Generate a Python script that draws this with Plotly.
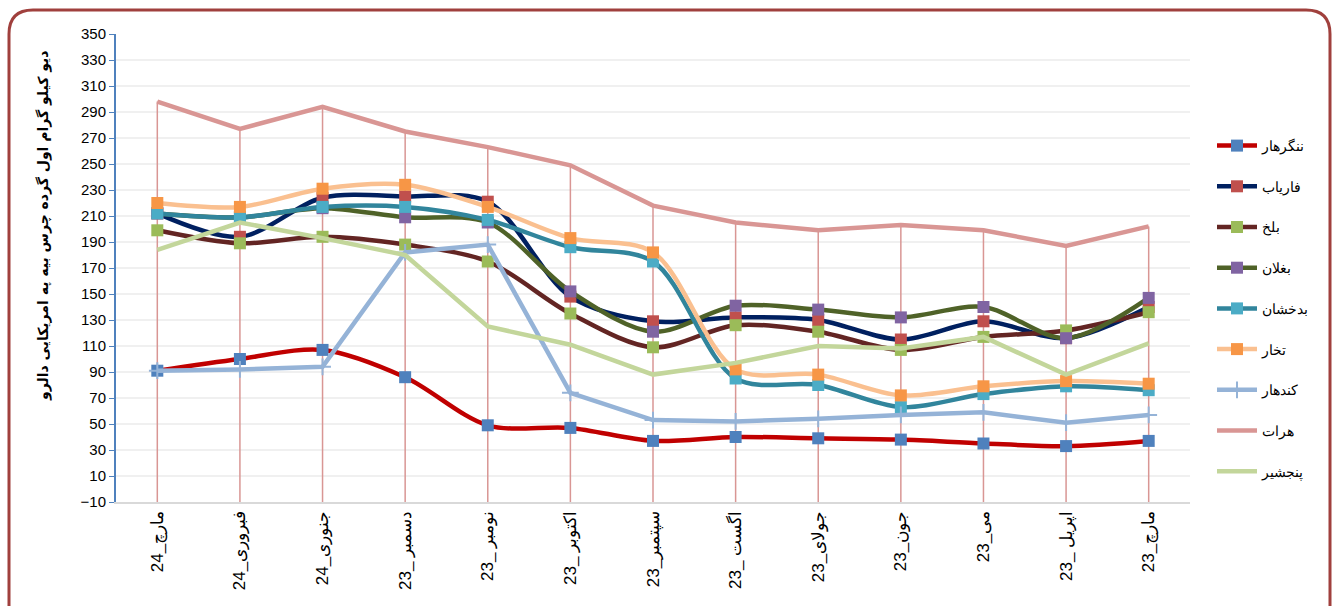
import plotly.graph_objects as go

# ---------------- data ----------------
months = ["24_مارچ", "24_فبروری", "24_جنوری", "23_ دسمبر", "23_ نومبر", "23_ اکتوبر",
          "23_سپتمبر", "23_ اگست", "23_جولای", "23_جون", "23_می", "23_ اپریل", "23_مارچ"]

nangarhar = [91, 100, 107, 86, 49, 47, 37, 40, 39, 38, 35, 33, 37]
faryab = [212, 194, 224, 225, 221, 148, 129, 132, 130, 115, 129, 116, 140]
balkh = [199, 189, 194, 188, 175, 135, 109, 126, 121, 107, 117, 122, 136]
baghlan = [212, 209, 216, 209, 205, 152, 121, 141, 138, 132, 140, 116, 147]
badakhshan = [212, 209, 217, 217, 207, 186, 175, 85, 80, 63, 73, 79, 76]
takhar = [220, 217, 231, 234, 217, 193, 182, 92, 88, 72, 79, 83, 81]
kandahar = [91, 92, 94, 182, 188, 74, 53, 52, 54, 57, 59, 51, 57]
herat = [298, 277, 294, 275, 263, 249, 218, 205, 199, 203, 199, 187, 202]
panjshir = [184, 205, 193, 180, 125, 111, 88, 97, 110, 108, 117, 88, 112]

series = [
    ("ننگرهار", nangarhar, "#C00000", "#4F81BD", "square", True),
    ("فاریاب", faryab, "#002060", "#C0504D", "square", True),
    ("بلخ", balkh, "#632523", "#9BBB59", "square", True),
    ("بغلان", baghlan, "#4F6228", "#8064A2", "square", True),
    ("بدخشان", badakhshan, "#31859C", "#4BACC6", "square", True),
    ("تخار", takhar, "#FAC090", "#F79646", "square", True),
    ("کندهار", kandahar, "#95B3D7", "#95B3D7", "cross-thin", False),
    ("هرات", herat, "#D99694", None, None, False),
    ("پنجشیر", panjshir, "#C3D69B", None, None, False),
]

y_title = "دیو کیلو گرام اول گرده چرس بیه په امریکایی دالرو"
y_min, y_max, y_step = -10, 350, 20

# ---------------- layout geometry (pixels) ----------------
W, H = 1335, 606
L, R, T, B = 116, 1190, 34, 502

fig = go.Figure()

# drop lines from the highest series
dx, dy = [], []
for m, v in zip(months, herat):
    dx += [m, m, None]
    dy += [v, y_min, None]
fig.add_trace(go.Scatter(x=dx, y=dy, mode="lines", line=dict(color="#D99694", width=1.5),
                         showlegend=False, hoverinfo="skip"))

for i, (name, vals, lc, mc, sym, smooth) in enumerate(series):
    kw = dict(x=months, y=vals, name=name, legendgroup=f"g{i}",
              line=dict(color=lc, width=4.5, shape="spline" if smooth else "linear",
                        smoothing=0.9 if smooth else None))
    if sym is None:
        kw["mode"] = "lines"
    elif sym == "square":
        kw["mode"] = "lines+markers"
        kw["marker"] = dict(symbol="square", size=12, color=mc, line=dict(width=0))
    else:
        kw["mode"] = "lines+markers"
        kw["marker"] = dict(symbol=sym, size=12, color=mc, line=dict(width=2, color=mc))
    fig.add_trace(go.Scatter(**kw))


def px(x):
    return (x - L) / (R - L)


def py(y):
    return (B - y) / (B - T)


# rounded outer frame
x0, x1, y0, y1, r = 9, 1330, 10, 640, 24
path = (f"M {px(x0 + r)},{py(y0)} L {px(x1 - r)},{py(y0)} "
        f"Q {px(x1)},{py(y0)} {px(x1)},{py(y0 + r)} "
        f"L {px(x1)},{py(y1 - r)} Q {px(x1)},{py(y1)} {px(x1 - r)},{py(y1)} "
        f"L {px(x0 + r)},{py(y1)} Q {px(x0)},{py(y1)} {px(x0)},{py(y1 - r)} "
        f"L {px(x0)},{py(y0 + r)} Q {px(x0)},{py(y0)} {px(x0 + r)},{py(y0)} Z")

fig.update_layout(
    width=W, height=H,
    margin=dict(l=L, r=W - R, t=T, b=H - B, autoexpand=False),
    paper_bgcolor="white", plot_bgcolor="white",
    font=dict(family="Liberation Sans, Arial, sans-serif", color="black", size=14),
    shapes=[dict(type="path", path=path, xref="paper", yref="paper",
                 line=dict(color="#A0403D", width=3), layer="above")],
    annotations=[dict(text=f"<b>{y_title}</b>", textangle=-90, xref="paper", yref="paper",
                      x=px(43), y=py(226), xanchor="center", yanchor="middle",
                      showarrow=False, font=dict(size=14, family="DejaVu Sans"))],
    legend=dict(x=px(1212), y=py(130), xanchor="left", yanchor="top",
                font=dict(size=14, family="Liberation Sans, Arial, sans-serif"),
                tracegroupgap=19.5, traceorder="grouped", itemwidth=40,
                bgcolor="rgba(0,0,0,0)"),
    showlegend=True,
)

fig.update_xaxes(type="category", range=[-0.5, len(months) - 0.5], tickangle=-90,
                 showgrid=False, showline=True, linecolor="#D9D9D9", linewidth=2,
                 ticks="", tickfont=dict(size=17), zeroline=False, automargin=False)
fig.update_yaxes(range=[y_min, y_max], dtick=y_step, tick0=y_min,
                 showgrid=True, gridcolor="#F0F0F0", gridwidth=2,
                 showline=True, linecolor="#4F81BD", linewidth=2,
                 ticks="outside", ticklen=5, tickcolor="#4F81BD",
                 tickfont=dict(size=15), zeroline=False, automargin=False)

fig.write_html("out.html", config={"displayModeBar": False},
               post_script="document.body.style.margin='0';document.body.style.overflow='hidden';")
